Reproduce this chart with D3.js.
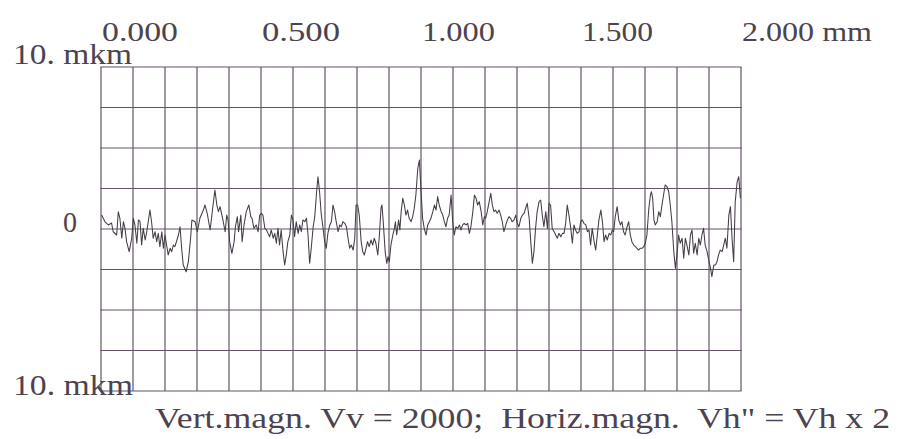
<!DOCTYPE html>
<html><head><meta charset="utf-8">
<script src="https://cdn.jsdelivr.net/npm/d3@7"></script>
<style>
html,body{margin:0;padding:0;background:#fff;}
svg{display:block;}
</style></head>
<body><svg id="c" width="908" height="439"></svg>
<script>
// ---- data ----
const xTicksMm = [0, 0.5, 1.0, 1.5, 2.0];
const xTickLabels = ["0.000", "0.500", "1.000", "1.500", "2.000 mm"];
const yTopLabel = "10. mkm";
const yZeroLabel = "0";
const yBottomLabel = "10. mkm";
const caption = "Vert.magn. Vv = 2000;  Horiz.magn.  Vh\" = Vh x 2";
const xDomainMm = [0, 2];
const yDomainMkm = [-10, 10];
const gridStepMm = 0.1;
const gridStepMkm = 2.5;

const positionMm = [
0.002,0.013,0.023,0.033,0.038,0.049,0.054,0.059,0.065,0.070,0.075,0.080,0.088,0.096,0.101,0.106,0.112,0.117,0.122,0.127,
0.132,0.138,0.143,0.153,0.158,0.163,0.169,0.174,0.179,0.184,0.190,0.195,0.200,0.205,0.210,0.216,0.221,0.226,0.231,0.242,
0.247,0.252,0.257,0.266,0.273,0.280,0.284,0.294,0.301,0.309,0.320,0.325,0.332,0.341,0.349,0.356,0.362,0.367,0.372,0.380,
0.388,0.393,
0.397,0.402,0.409,0.416,0.420,0.426,0.430,0.437,0.441,0.447,0.454,0.462,0.468,0.472,0.478,0.485,0.491,0.496,0.501,0.506,
0.512,0.517,0.522,0.527,0.532,0.538,0.543,0.548,0.553,0.558,0.563,0.569,0.574,0.579,0.584,0.590,0.595,0.600,0.605,0.610,
0.616,0.621,0.626,0.631,0.637,0.642,0.647,0.652,0.657,0.663,0.668,0.673,0.678,0.683,0.688,0.694,0.699,0.704,0.709,0.715,
0.720,0.725,0.730,0.735,0.741,0.746,0.751,0.756,0.762,0.767,0.772,0.777,0.782,0.788,0.793,
0.797,0.802,0.807,0.813,0.818,0.823,0.828,0.833,0.838,0.844,0.849,0.854,0.859,0.865,0.870,0.875,0.878,0.882,0.888,0.893,
0.897,0.901,0.906,0.912,0.917,0.920,0.924,0.930,0.934,0.938,0.943,0.948,0.953,0.958,0.963,0.969,0.974,0.979,0.984,0.990,
0.995,0.998,1.002,1.005,1.010,1.016,1.021,1.026,1.031,1.037,1.042,1.047,1.052,1.057,1.063,1.068,1.073,1.078,1.083,1.088,
1.094,1.099,1.104,1.109,1.115,1.120,1.125,1.130,1.135,1.141,1.146,1.151,1.156,1.162,1.167,1.172,1.177,1.182,1.188,1.193,
1.198,
1.202,1.207,1.213,1.218,1.223,1.228,1.233,1.238,1.244,1.249,1.254,1.259,1.265,1.270,1.275,1.280,1.285,1.291,1.296,1.301,
1.306,1.312,1.317,1.322,1.327,1.332,1.338,1.343,1.348,1.353,1.358,1.363,1.369,1.374,1.379,1.384,1.390,1.395,1.400,1.405,
1.410,1.416,1.421,1.426,1.431,1.437,1.442,1.447,1.452,1.457,1.463,1.468,1.473,1.478,1.483,1.488,1.494,1.499,1.504,1.509,
1.515,1.520,1.525,1.530,1.535,1.541,1.546,1.551,1.556,1.562,1.567,1.572,1.577,1.582,1.588,1.593,1.598,
1.602,1.607,1.613,1.618,1.623,1.628,1.633,1.638,1.644,1.649,1.654,1.659,1.665,1.670,1.675,1.680,1.685,1.691,1.696,1.701,
1.706,1.712,1.717,1.720,1.724,1.728,1.732,1.738,1.743,1.748,1.753,1.758,1.763,1.769,1.774,1.779,1.784,1.790,1.795,1.800,
1.805,1.810,1.816,1.821,1.826,1.831,1.837,1.842,1.847,1.852,1.857,1.863,1.868,1.873,1.878,1.883,1.888,1.894,1.899,1.904,
1.909,1.915,1.920,1.925,1.930,1.935,1.941,1.946,1.951,1.956,1.962,1.967,1.972,1.977,1.982,1.988,1.993,1.998
];

const heightMkm = [
0.86,0.43,0.25,0.37,-0.17,-0.37,1.07,0.66,-0.57,0.45,0.04,-0.78,-1.40,-0.57,0.66,0.25,-0.88,0.56,0.45,-0.99,
0.04,-0.68,-0.17,1.17,0.45,-0.57,-0.17,-0.78,-0.27,-1.09,-0.17,-1.19,-0.37,-0.99,-1.60,-1.19,-1.40,-0.99,-1.09,-0.37,
0.14,-1.19,-2.22,-2.64,-2.02,-0.57,0.56,0.45,-0.17,0.66,1.17,1.48,0.97,-0.06,1.28,2.41,1.48,1.07,1.38,0.66,
-0.17,0.86,
0.56,-0.78,-1.50,-0.78,0.14,0.76,-0.17,0.86,-0.78,0.25,1.07,1.48,0.76,0.66,0.04,0.25,-0.17,0.86,0.97,0.86,
0.04,-0.06,-0.27,-0.48,-0.06,-0.57,-0.27,-0.88,0.04,-0.99,-0.06,-1.40,-2.22,-1.60,-0.78,-0.37,0.86,0.56,-0.48,0.45,
-0.27,0.25,-0.17,0.56,0.45,0.66,-0.37,-2.12,-1.19,0.14,0.76,2.10,3.23,2.30,0.97,0.04,-0.78,-1.19,-0.27,0.25,
0.45,1.48,1.07,0.45,-0.17,0.25,0.14,0.45,0.35,0.14,-0.57,-1.19,-0.99,-1.30,-0.57,
1.48,1.48,0.86,-0.78,-1.40,-1.60,-1.19,-0.78,-1.09,-0.68,-0.99,-0.57,-0.88,-1.60,-0.37,1.28,1.48,0.45,-1.40,-2.12,
-1.71,-2.02,-0.99,-0.37,0.04,0.45,-0.37,0.56,-0.06,1.07,1.90,1.48,0.86,1.17,0.66,0.45,0.76,1.28,2.10,3.75,
4.26,3.13,1.69,0.66,0.04,-0.37,0.25,0.45,0.66,1.07,1.48,1.17,2.00,1.48,1.07,0.86,0.45,0.14,0.66,0.86,
2.10,0.45,-0.37,0.14,0.04,0.25,-0.06,0.25,0.35,0.25,0.35,-0.27,0.14,1.07,2.10,1.90,1.48,1.69,1.07,0.25,
0.76,
0.66,1.07,1.69,2.20,1.48,1.07,1.17,0.97,1.17,0.86,0.45,-0.17,0.25,0.56,0.76,0.66,0.45,0.56,0.86,0.35,
0.14,0.66,0.86,0.97,1.28,1.59,0.66,-0.78,-2.12,-1.40,0.04,1.07,1.69,1.79,0.86,0.14,1.07,0.04,1.59,1.48,
0.04,-0.17,-0.37,-0.57,-0.27,-0.48,-0.27,-0.27,0.35,1.48,0.76,0.04,-0.88,0.25,-0.06,-0.27,-0.17,0.45,0.56,0.35,
0.25,-0.17,-0.06,-0.99,0.04,-0.78,-1.30,-0.37,0.56,1.17,0.45,-0.78,-0.37,-0.68,-0.27,-0.37,-0.06,
-0.17,0.76,1.38,0.56,0.25,0.45,-0.17,-0.37,0.14,0.45,-0.37,-0.78,-0.99,-1.09,-1.19,-1.30,-1.19,-1.19,-1.09,-0.88,
-0.37,1.28,2.10,2.30,1.90,0.56,0.25,0.45,1.07,0.76,1.48,2.10,2.72,2.61,2.30,1.48,0.45,-1.40,-2.43,-1.60,
-0.37,-0.88,-0.57,-1.81,-0.57,-0.99,-1.60,-0.37,-0.06,-1.50,-0.88,-1.60,-0.57,-0.99,-0.37,0.04,-0.99,-1.40,-1.91,-2.33,
-2.94,-2.22,-2.22,-2.02,-1.60,-1.30,-1.40,-0.99,-0.57,-1.19,0.86,1.38,-0.57,-2.02,1.69,2.92,3.23,1.90
];

// ---- drawing ----
const FONT = "'Liberation Serif', 'Times New Roman', Times, serif";
const TEXT_COLOR = "#4d4350";
const svg = d3.select("#c");
const x = d3.scaleLinear().domain(xDomainMm).range([101, 741]);
const y = d3.scaleLinear().domain(yDomainMkm).range([391, 67]);

const gridColor = "#64526a";
const vTicks = d3.range(xDomainMm[0], xDomainMm[1] + 1e-9, gridStepMm);
const hTicks = d3.range(yDomainMkm[0], yDomainMkm[1] + 1e-9, gridStepMkm);

const grid = svg.append("g").attr("stroke", gridColor).attr("stroke-width", 1.2).attr("fill", "none");
grid.selectAll("line.v").data(vTicks).join("line").attr("class", "v")
  .attr("x1", d => x(d)).attr("x2", d => x(d))
  .attr("y1", y(yDomainMkm[1])).attr("y2", y(yDomainMkm[0]));
grid.selectAll("line.h").data(hTicks).join("line").attr("class", "h")
  .attr("x1", x(xDomainMm[0]) - 0.6).attr("x2", x(xDomainMm[1]) + 0.6)
  .attr("y1", d => y(d)).attr("y2", d => y(d));

// profile trace
const pts = positionMm.map((p, i) => [p, heightMkm[i]]);
const line = d3.line().x(d => x(d[0])).y(d => y(d[1]));
svg.append("path").datum(pts)
  .attr("d", line)
  .attr("fill", "none")
  .attr("stroke", "#443c46")
  .attr("stroke-width", 1.05)
  .attr("stroke-linejoin", "round");

function label(sel) {
  return sel.attr("font-family", FONT).attr("fill", TEXT_COLOR).attr("lengthAdjust", "spacingAndGlyphs");
}

// top axis labels
const widths = [76, 78, 73, 71, 130];
svg.append("g").selectAll("text").data(xTicksMm).join("text")
  .call(label)
  .attr("x", d => x(d) + 1)
  .attr("y", 41)
  .attr("font-size", 27)
  .attr("textLength", (d, i) => widths[i])
  .text((d, i) => xTickLabels[i]);

// y labels
svg.append("text").call(label).attr("x", 13).attr("y", y(yDomainMkm[1]) - 3).attr("font-size", 29)
  .attr("textLength", 119).text(yTopLabel);
svg.append("text").call(label).attr("x", 63).attr("y", y(0) + 3).attr("font-size", 30)
  .attr("textLength", 14).text(yZeroLabel);
svg.append("text").call(label).attr("x", 13).attr("y", y(yDomainMkm[0]) + 4).attr("font-size", 30)
  .attr("textLength", 120).text(yBottomLabel);

// caption
svg.append("text").call(label).attr("x", 155).attr("y", 428).attr("font-size", 30)
  .attr("textLength", 735)
  .attr("xml:space", "preserve").style("white-space", "pre").text(caption);
</script>
</body></html>
